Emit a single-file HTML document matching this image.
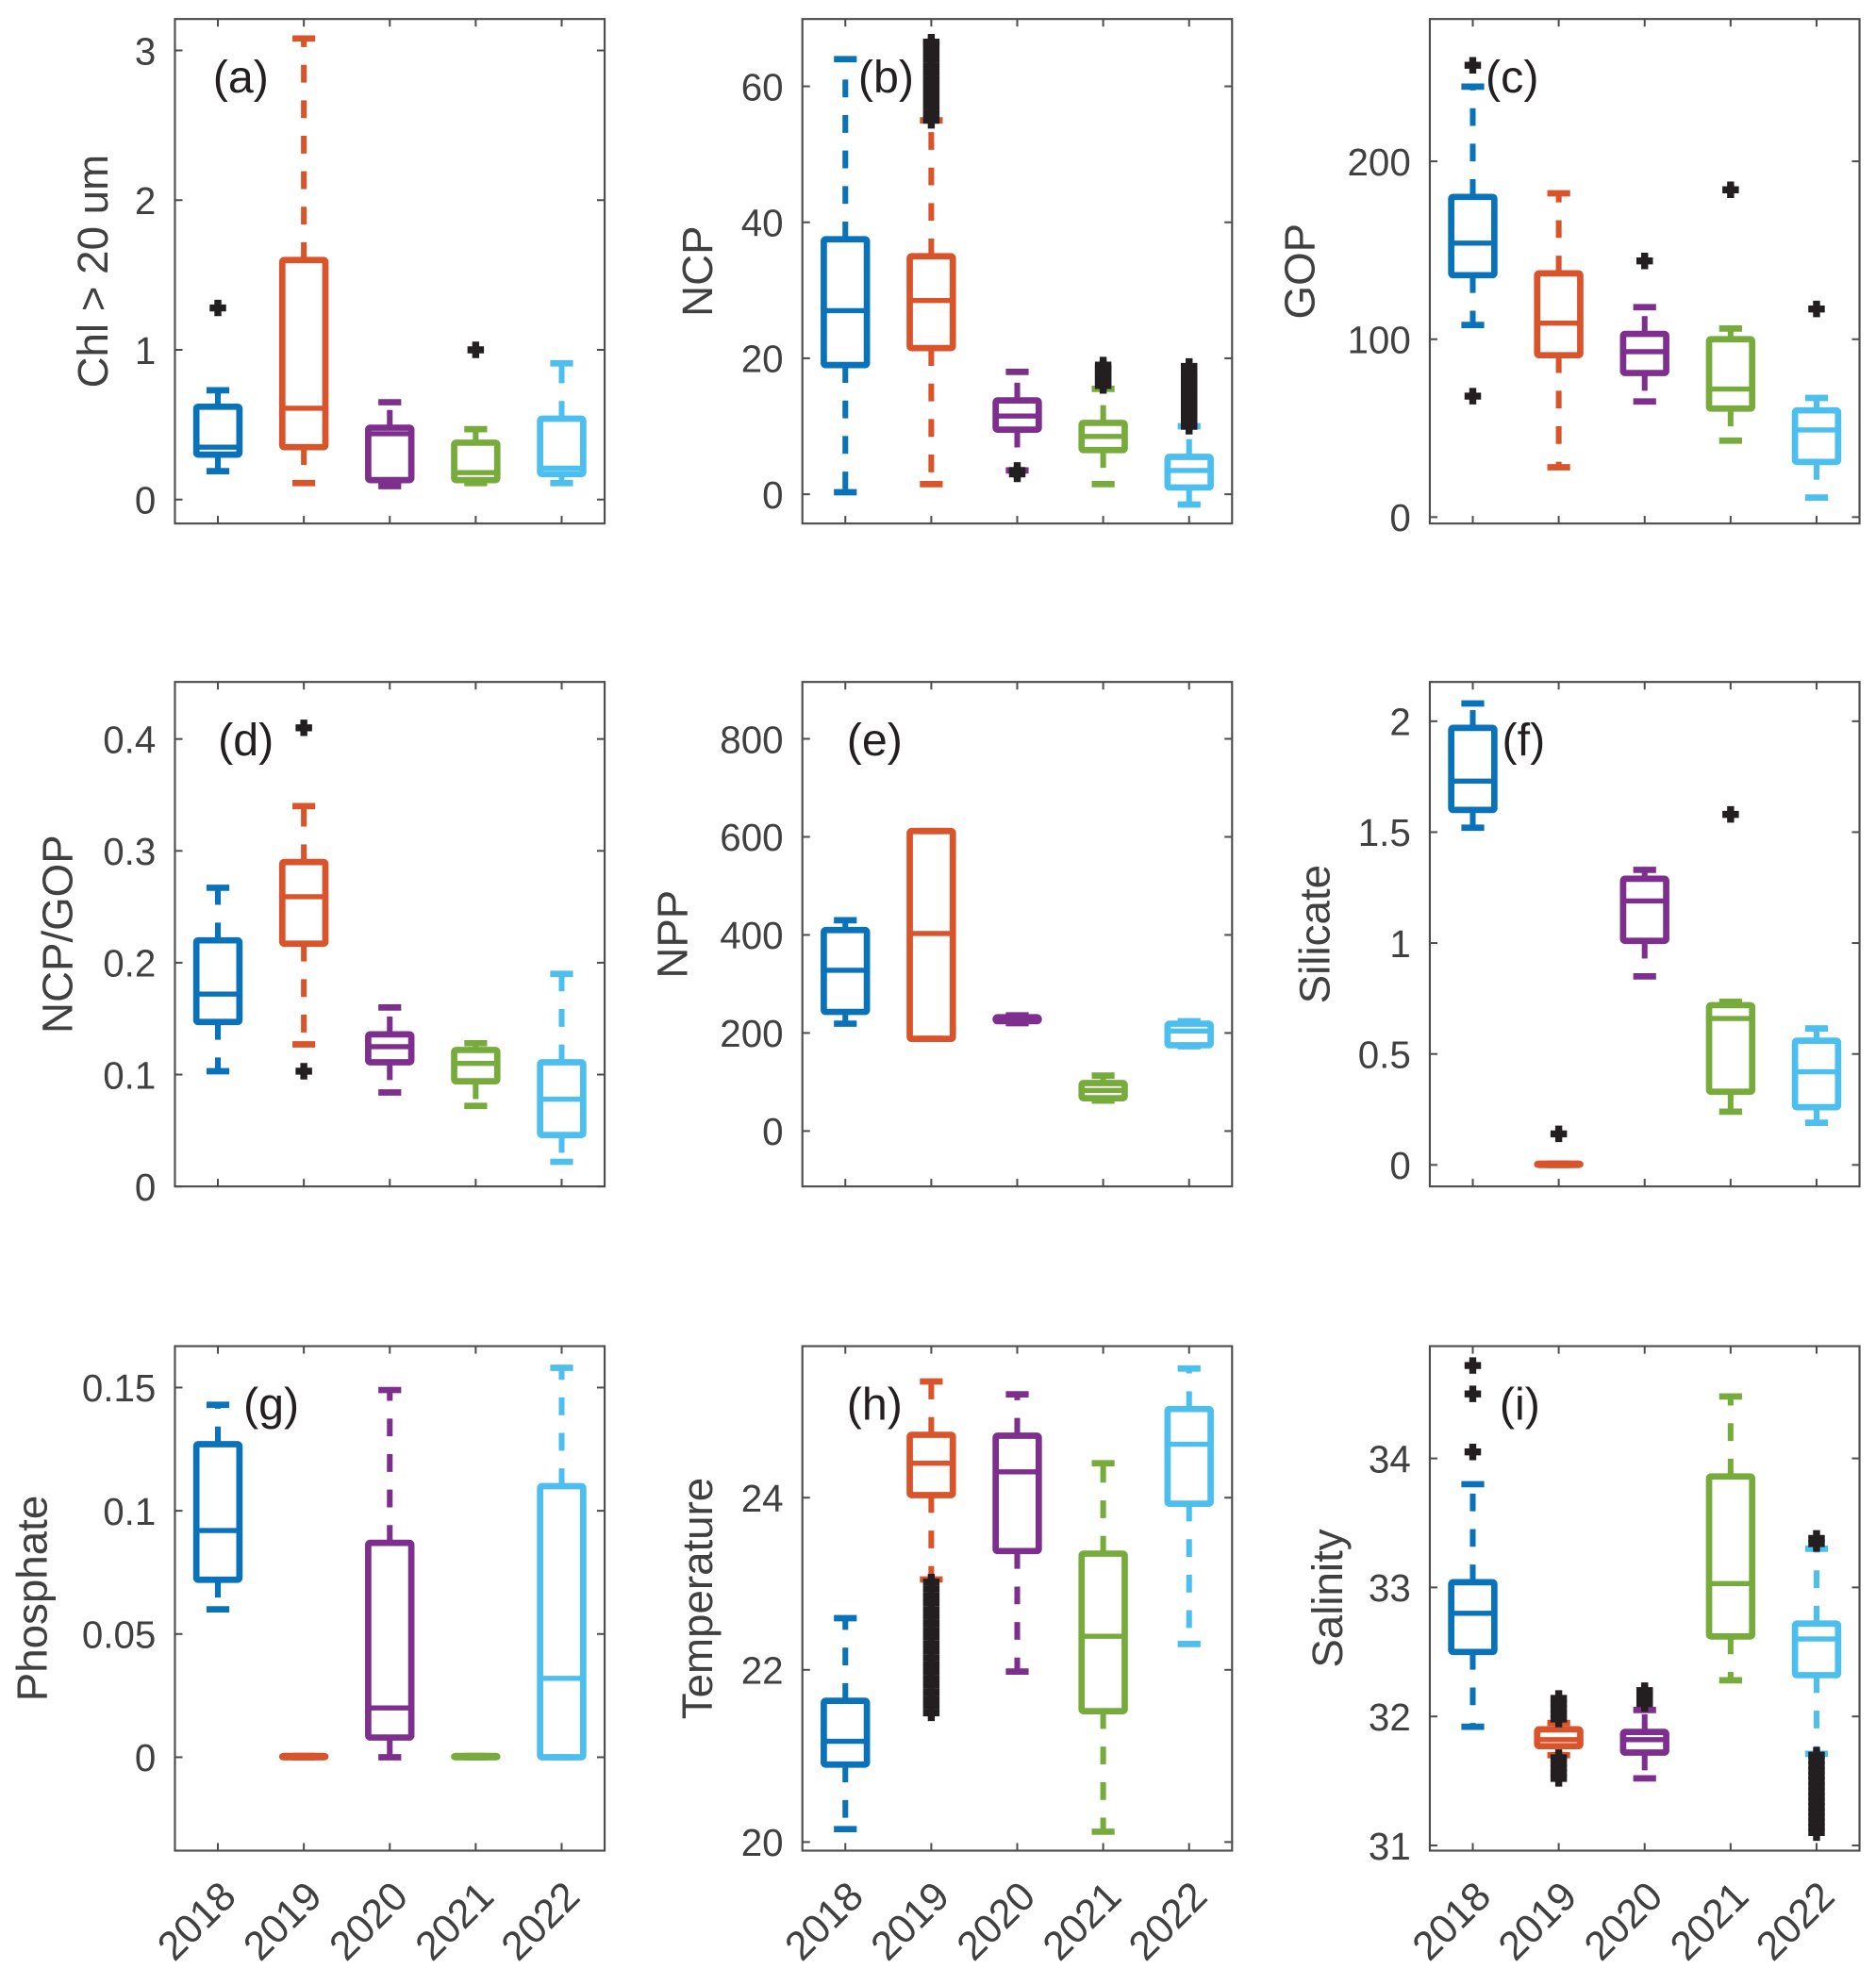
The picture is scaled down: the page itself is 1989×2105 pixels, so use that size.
<!DOCTYPE html>
<html><head><meta charset="utf-8"><title>Box plots 2018-2022</title>
<style>
html,body{margin:0;padding:0;background:#fff;}
svg{display:block;}
text{font-family:"Liberation Sans","DejaVu Sans",sans-serif;}
</style></head>
<body>
<svg id="fig" width="1989" height="2105" viewBox="0 0 1480 1566" preserveAspectRatio="none" xmlns="http://www.w3.org/2000/svg"></svg>
<script>
const years = ["2018","2019","2020","2021","2022"];
const colors = ["#0a72b8","#d9542a","#7e2f8e","#77ac3c","#4dbfee"];

// [lowerCap, q1, median, q3, upperCap] per year
const statsA = [[0.19,0.30,0.35,0.62,0.73],[0.11,0.35,0.61,1.60,3.08],[0.09,0.13,0.44,0.48,0.65],[0.11,0.13,0.18,0.38,0.47],[0.11,0.17,0.21,0.54,0.91]];
const outA = [[1.28],[],[],[1.0],[]];
const statsB = [[0.3,19,27,37.5,64],[1.5,21.5,28.5,35,55],[3.5,9.5,11.5,13.8,18],[1.5,6.5,8.5,10.5,15.5],[-1.5,1,3.5,5.5,10]];
const outB = [[],[55,56,57,58,59,60,61,62,63,64,65,66,66.5],[3,3.5],[16,16.5,17,17.5,18,18.5,19],[10,10.5,11,11.5,12,12.5,13,13.5,14,14.5,15,15.5,16,16.5,17,17.5,18,18.8]];
const statsC = [[108,136,154,180,242],[28,91,109,137,182],[65,81,93,103,118],[43,61,72,100,106],[11,31,49,60,67]];
const outC = [[254,68],[],[144],[184],[117]];
const statsD = [[0.103,0.147,0.172,0.22,0.267],[0.127,0.217,0.259,0.29,0.34],[0.084,0.111,0.125,0.136,0.16],[0.072,0.094,0.11,0.122,0.128],[0.022,0.046,0.078,0.111,0.19]];
const outD = [[],[0.41,0.103],[],[],[]];
const statsE = [[219,243,328,410,430],[188,188,403,612,612],[220,224,228,232,236],[62,67,83,98,113],[173,175,204,219,224]];
const outE = [[],[],[],[],[]];
const statsF = [[1.52,1.6,1.73,1.97,2.08],[0,0,0.003,0.006,0.006],[0.85,1.01,1.19,1.29,1.33],[0.24,0.33,0.66,0.72,0.735],[0.19,0.26,0.42,0.56,0.615]];
const outF = [[],[0.14],[],[1.58],[]];
const statsG = [[0.06,0.072,0.092,0.127,0.143],[0,0,0,0.0005,0.0005],[0,0.008,0.02,0.087,0.149],[0,0,0,0.0005,0.0005],[0,0,0.032,0.11,0.158]];
const outG = [[],[],[],[],[]];
const statsH = [[20.15,20.9,21.17,21.64,22.6],[23.05,24.03,24.4,24.73,25.35],[21.98,23.38,24.3,24.72,25.2],[20.12,21.52,22.39,23.35,24.4],[22.3,23.93,24.62,25.03,25.5]];
const outH = [[],[21.5,21.58,21.66,21.74,21.82,21.9,21.98,22.06,22.14,22.22,22.3,22.38,22.46,22.54,22.62,22.7,22.78,22.86,22.94,23.02],[],[],[]];
const statsI = [[31.92,32.5,32.8,33.04,33.8],[31.7,31.77,31.82,31.9,31.95],[31.52,31.72,31.82,31.88,32.05],[32.28,32.62,33.03,33.86,34.48],[31.71,32.32,32.6,32.72,33.3]];
const outI = [[34.05,34.5,34.72],[31.98,32.02,32.06,32.1,32.14,31.52,31.56,31.6,31.64,31.68],[32.1,32.14,32.18,32.2],[],[33.38,33.34,31.1,31.14,31.18,31.22,31.26,31.3,31.34,31.38,31.42,31.46,31.5,31.54,31.58,31.62,31.66,31.7]];

const ticksA=[0,1,2,3], ticksB=[0,20,40,60], ticksC=[0,100,200], ticksD=[0,0.1,0.2,0.3,0.4], ticksE=[0,200,400,600,800], ticksF=[0,0.5,1,1.5,2], ticksG=[0,0.05,0.1,0.15], ticksH=[20,22,24], ticksI=[31,32,33,34];

const panels = [
 {id:"a",label:"Chl > 20 um",stats:statsA,out:outA,ticks:ticksA,min:-0.16,max:3.21,x:138,y:15,tx:76,lx:168},
 {id:"b",label:"NCP",stats:statsB,out:outB,ticks:ticksB,min:-4.3,max:69.9,x:633,y:15,tx:553,lx:677},
 {id:"c",label:"GOP",stats:statsC,out:outC,ticks:ticksC,min:-3.6,max:280,x:1128,y:15,tx:1028,lx:1172},
 {id:"d",label:"NCP/GOP",stats:statsD,out:outD,ticks:ticksD,min:0,max:0.451,x:138,y:538,tx:48,lx:172},
 {id:"e",label:"NPP",stats:statsE,out:outE,ticks:ticksE,min:-113,max:916,x:633,y:538,tx:533,lx:668},
 {id:"f",label:"Silicate",stats:statsF,out:outF,ticks:ticksF,min:-0.097,max:2.177,x:1128,y:538,tx:1040,lx:1185},
 {id:"g",label:"Phosphate",stats:statsG,out:outG,ticks:ticksG,min:-0.0379,max:0.1668,x:138,y:1062,tx:28,lx:192},
 {id:"h",label:"Temperature",stats:statsH,out:outH,ticks:ticksH,min:19.9,max:25.76,x:633,y:1062,tx:553,lx:668},
 {id:"i",label:"Salinity",stats:statsI,out:outI,ticks:ticksI,min:30.96,max:34.87,x:1128,y:1062,tx:1050,lx:1183}
];

const NS="http://www.w3.org/2000/svg";
const svg=document.getElementById("fig");
function mk(tag,attrs,parent){const e=document.createElementNS(NS,tag);for(const k in attrs)e.setAttribute(k,attrs[k]);(parent||svg).appendChild(e);return e;}
const W=339,H=398;

panels.forEach(p=>{
  const g=mk("g",{});
  
  
  const yS=v=>p.y+H-(v-p.min)/(p.max-p.min)*H;
  const xS=i=>p.x+(i+0.5)*W/5;
  const fr=mk("rect",{x:p.x,y:p.y,width:W,height:H,fill:"none",stroke:"#4d4d4d","stroke-width":1.6},g);
  
  
  p.ticks.forEach(t=>{
    const y=yS(t);
    mk("line",{x1:p.x,x2:p.x+6,y1:y,y2:y,stroke:"#4d4d4d","stroke-width":1.5},g);
    mk("line",{x1:p.x+W,x2:p.x+W-6,y1:y,y2:y,stroke:"#4d4d4d","stroke-width":1.5},g);
    const tl=mk("text",{x:p.x-15,y:y+11,"text-anchor":"end","font-size":30,fill:"#404040"},g);
    tl.textContent=String(t);
    
    
  });
  years.forEach((yr,i)=>{
    const x=xS(i);
    mk("line",{x1:x,x2:x,y1:p.y,y2:p.y+6,stroke:"#4d4d4d","stroke-width":1.5},g);
    mk("line",{x1:x,x2:x,y1:p.y+H,y2:p.y+H-6,stroke:"#4d4d4d","stroke-width":1.5},g);
    if(p.y>1000){
      const ax=x+16, ay=p.y+H+38;
      const xl=mk("text",{x:ax,y:ay,"text-anchor":"end","font-size":32,fill:"#404040",transform:`rotate(-45 ${ax} ${ay})`},g);
      xl.textContent=yr;
      
      
    }
  });
  const cy=p.y+H/2;
  const at=mk("text",{x:p.tx,y:cy,"text-anchor":"middle","font-size":34,fill:"#404040",transform:`rotate(-90 ${p.tx} ${cy})`,"dominant-baseline":"middle"},g);
  at.textContent=p.label;
  
  
  p.stats.forEach((s,i)=>{
    const x=xS(i),c=colors[i],bw=34,cw=18;
    const bg=mk("g",{},g);
    
    
    const [lo,q1,md,q3,hi]=s;
    mk("line",{x1:x,x2:x,y1:yS(q3),y2:yS(hi),stroke:c,"stroke-width":4.5,"stroke-dasharray":"14 14"},bg);
    mk("line",{x1:x,x2:x,y1:yS(q1),y2:yS(lo),stroke:c,"stroke-width":4.5,"stroke-dasharray":"14 14"},bg);
    mk("line",{x1:x-cw/2,x2:x+cw/2,y1:yS(hi),y2:yS(hi),stroke:c,"stroke-width":5},bg);
    mk("line",{x1:x-cw/2,x2:x+cw/2,y1:yS(lo),y2:yS(lo),stroke:c,"stroke-width":5},bg);
    const h=Math.max(yS(q1)-yS(q3),1);
    mk("rect",{x:x-bw/2,y:yS(q3),width:bw,height:h,fill:"none",stroke:c,"stroke-width":5,rx:1.5},bg);
    mk("line",{x1:x-bw/2,x2:x+bw/2,y1:yS(md),y2:yS(md),stroke:c,"stroke-width":4},bg);
    p.out[i].forEach(v=>{
      const y=yS(v);
      const o=mk("path",{d:`M${x-6.5} ${y}H${x+6.5}M${x} ${y-6.5}V${y+6.5}`,stroke:"#231f20","stroke-width":5.5,fill:"none"},bg);
      
      
    });
  });
  const pl=mk("text",{x:p.lx,y:p.y+58,"font-size":36,fill:"#231f20"},g);
  pl.textContent="("+p.id+")";
  
  
});
</script>
</body></html>
